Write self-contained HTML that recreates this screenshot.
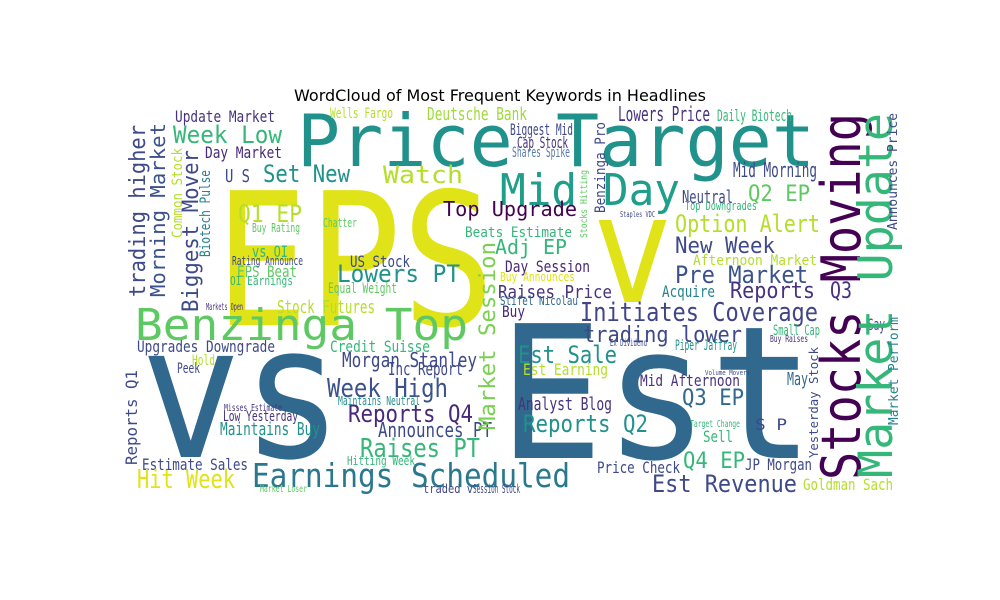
<!DOCTYPE html>
<html>
<head>
<meta charset="utf-8">
<style>
html,body{margin:0;padding:0;background:#fff;}
#wrap{position:relative;width:1000px;height:600px;overflow:hidden;}
svg text{font-family:"DejaVu Sans Mono","Liberation Mono",monospace;}
</style>
</head>
<body>
<div id="wrap">
<svg id="svg" width="1000" height="600" viewBox="0 0 1000 600">
<text x="500" y="101" text-anchor="middle" font-size="16" fill="#000" style="font-family:'DejaVu Sans','Liberation Sans',sans-serif">WordCloud of Most Frequent Keywords in Headlines</text>
<g id="words"></g>
</svg>
</div>
<script>
// [text, x, baseline, fontSize, width, color, vertical(0/1)]
const words = [
["Price Target",297,166,72,518,"#21918c",0],
["EPS",215,325,185,280,"#dfe318",0],
["v",592,302,150,81,"#dfe318",0],
["vs",140,457,185,203,"#31688e",0],
["Est",498,458,185,317,"#31688e",0],
["Mid Day",500,205,44,180,"#1f9e89",0],
["Benzinga Top",135,340,44,333,"#5ec962",0],
["Earnings Scheduled",252,487,33,318,"#2a788e",0],
["Est Sale",518,363,24,99,"#21918c",0],
["Initiates Coverage",580,321,26,238,"#414487",0],
["trading lower",583,342,22,159,"#3e4989",0],
["Top Upgrade",443,216,20,134,"#440154",0],
["Adj EP",495,254,20,72,"#35b779",0],
["Option Alert",675,232,24,145,"#b5de2b",0],
["Q2 EP",748,201,22,62,"#5ec962",0],
["New Week",675,253,22,100,"#3e4989",0],
["Pre Market",675,283,24,133,"#3b528b",0],
["Reports",730,298,22,85,"#46327e",0],
["Q3",830,298,22,22,"#46327e",0],
["Q3 EP",682,405,22,62,"#31688e",0],
["Q4 EP",683,468,22,62,"#35b779",0],
["Est Revenue",652,492,24,145,"#3e4989",0],
["Watch",383,183,24,80,"#b5de2b",0],
["Lowers PT",337,282,24,123,"#21918c",0],
["Week High",327,397,26,121,"#3b528b",0],
["Reports Q4",348,422,24,125,"#482878",0],
["Announces PT",378,437,20,114,"#3e4989",0],
["Raises PT",360,457,26,120,"#35b779",0],
["Morgan Stanley",342,367,20,135,"#3e4989",0],
["Reports Q2",523,432,24,125,"#21918c",0],
["Analyst Blog",518,410,18,94,"#46327e",0],
["Raises Price",498,298,18,114,"#46327e",0],
["Stifel Nicolau",500,305,12,78,"#31688e",0],
["Day Session",505,272,16,85,"#482878",0],
["Buy Announces",500,281,12,75,"#dfe318",0],
["Beats Estimate",465,237,14,107,"#35b779",0],
["Deutsche Bank",427,120,18,100,"#9fda3a",0],
["Lowers Price",618,121,20,92,"#46327e",0],
["Daily Biotech",717,121,16,75,"#35b779",0],
["Biggest Mid",510,135,16,63,"#3e4989",0],
["Cap Stock",517,148,16,51,"#46327e",0],
["Shares Spike",512,157,14,58,"#5a79a8",0],
["Week Low",173,143,24,109,"#35b779",0],
["Update Market",175,122,16,100,"#46327e",0],
["Day Market",205,158,16,77,"#482878",0],
["Set New",263,182,24,87,"#21918c",0],
["U S",225,182,18,25,"#3e4989",0],
["Q1 EP",238,222,24,64,"#b5de2b",0],
["Mid Morning",733,177,20,84,"#3e4989",0],
["Wells Fargo",330,118,14,63,"#b5de2b",0],
["Stock Futures",277,313,18,98,"#b5de2b",0],
["Markets Open",206,310,10,37,"#46327e",0],
["Upgrades Downgrade",137,352,16,138,"#3e4989",0],
["Est Earning",523,375,16,85,"#b5de2b",0],
["Inc Report",388,375,18,75,"#3e4989",0],
["Credit Suisse",330,352,16,100,"#35b779",0],
["Maintains Neutral",338,405,12,82,"#21918c",0],
["Estimate Sales",142,470,16,106,"#3e4989",0],
["Hit Week",137,488,26,98,"#dfe318",0],
["Maintains Buy",220,435,18,100,"#21918c",0],
["Low Yesterday",223,421,14,75,"#46327e",0],
["Misses Estimate",224,411,10,58,"#46327e",0],
["Hitting Week",347,465,12,68,"#35b779",0],
["traded v",423,493,12,50,"#3e4989",0],
["Session Stock",473,493,12,47,"#3e4989",0],
["Market Loser",260,492,10,47,"#5ec962",0],
["Mid Afternoon",640,386,16,100,"#46327e",0],
["JP Morgan",745,470,16,67,"#3e4989",0],
["Goldman Sach",803,490,16,90,"#b5de2b",0],
["Acquire",662,297,16,53,"#26828e",0],
["Afternoon Market",693,265,14,124,"#b5de2b",0],
["Price Check",597,473,16,83,"#3e4989",0],
["Piper Jaffray",675,350,14,62,"#21918c",0],
["Neutral",682,203,18,51,"#3e4989",0],
["Top Downgrades",685,210,12,72,"#35b779",0],
["Buy",502,317,16,23,"#482878",0],
["EPS Beat",237,277,16,60,"#5ec962",0],
["OI Earnings",230,285,12,63,"#35b779",0],
["vs OI",252,257,16,36,"#35b779",0],
["Rating Announce",232,265,12,71,"#3e4989",0],
["Buy Rating",252,232,12,48,"#5ec962",0],
["Chatter",323,227,12,34,"#5ec962",0],
["US Stock",350,267,16,60,"#3e4989",0],
["Equal Weight",328,293,14,69,"#5ec962",0],
["Small Cap",773,335,14,47,"#35b779",0],
["Buy Raises",770,342,10,38,"#46327e",0],
["Ex Dividend",610,346,10,37,"#3e4989",0],
["Sell",703,442,16,30,"#35b779",0],
["S P",755,430,16,32,"#3e4989",0],
["May",787,385,18,21,"#31688e",0],
["Say",868,330,16,17,"#3e4989",0],
["Peek",177,373,14,23,"#3e4989",0],
["Hold",192,365,14,23,"#b5de2b",0],
["Staples VDC",620,217,8,35,"#3e4989",0],
["Volume Movers",705,375,7,45,"#3e4989",0],
["Target Change",690,427,10,50,"#35b779",0],
["Stocks Moving",860,480,54,367,"#440154",1],
["Market Update",892,478,47,365,"#35b779",1],
["Market Session",495,430,22,188,"#7ad151",1],
["trading higher",145,297,22,172,"#3e4989",1],
["Morning Market",165,297,20,174,"#3b528b",1],
["Biggest Mover",198,312,22,162,"#3e4989",1],
["Common Stock",182,238,14,90,"#b5de2b",1],
["Biotech Pulse",210,257,14,87,"#26828e",1],
["Benzinga Pro",605,213,14,91,"#3e4989",1],
["Stocks Hitting",587,238,10,68,"#5ec962",1],
["Announces Price",897,230,13,117,"#3e4989",1],
["Market Perform",898,425,13,108,"#26828e",1],
["Yesterday Stock",818,458,12,111,"#3e4989",1],
["Reports Q1",137,465,16,95,"#3e4989",1]
];
const g = document.getElementById('words');
const NS = 'http://www.w3.org/2000/svg';
for (const w of words) {
  const t = document.createElementNS(NS, 'text');
  t.textContent = w[0];
  t.setAttribute('x', w[1]);
  t.setAttribute('y', w[2]);
  t.setAttribute('font-size', w[3]);
  t.setAttribute('textLength', w[4]);
  t.setAttribute('lengthAdjust', 'spacingAndGlyphs');
  t.setAttribute('fill', w[5]);
  if (w[6]) t.setAttribute('transform', 'rotate(-90 ' + w[1] + ' ' + w[2] + ')');
  
  
  g.appendChild(t);
}
</script>
</body>
</html>
